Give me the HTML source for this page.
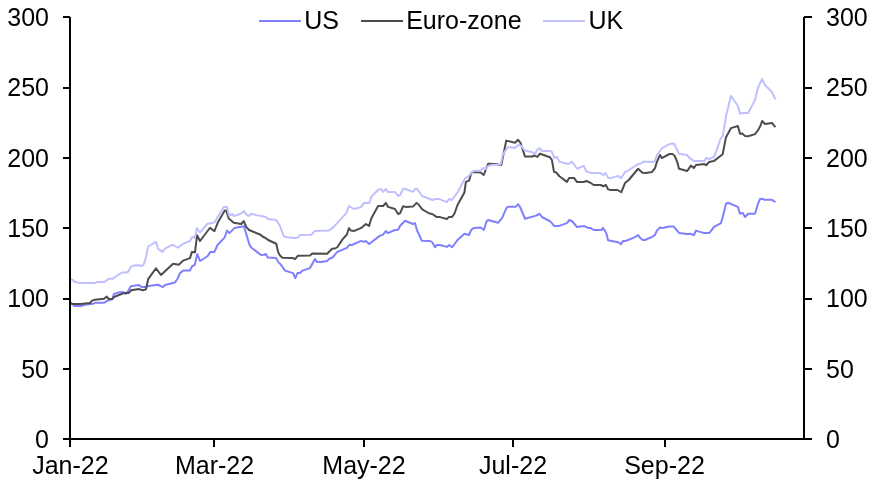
<!DOCTYPE html>
<html><head><meta charset="utf-8">
<style>
html,body{margin:0;padding:0;background:#fff;}
body{width:872px;height:482px;overflow:hidden;}
svg{display:block;}
text{font-family:"Liberation Sans",sans-serif;font-size:25px;fill:#000;}
</style></head><body>
<svg width="872" height="482" viewBox="0 0 872 482">
<rect width="872" height="482" fill="#fff"/>
<!-- series -->
<g fill="none" stroke-width="2" stroke-linejoin="round" stroke-linecap="butt">
<polyline id="us" stroke="#8080ff" points="70.6,302.8 74.4,306 80.9,306 86.5,304.4 93.4,303.7 95.6,302.7 104.3,302.7 108.9,299.9 112.4,299.3 113.9,293.9 117.75,292.75 121.5,291.9 124,292.5 125.9,294 128.4,290.6 130.9,286.25 139,285 141.5,286.9 145,287.1 148.75,285.9 158.1,284.75 162.9,287.1 165,285 175,282.5 177.5,278.75 180,273.1 183.1,270.6 190,270.4 192.25,266 194.75,265 197.25,254 200,261 207.5,256.25 210.25,252.1 214.4,251.9 217.5,245 224.4,237.9 227.1,230.6 229.4,233.1 234.4,228.1 243.9,226.2 249.4,244.4 251.25,247.5 261,255 263.75,254.75 265.9,254 267.75,257.5 276,257.9 278.1,261.9 280.6,264.4 285,270.6 293.1,273.1 295.25,278.1 297.5,273.1 300,272.9 302.5,270.6 310,268.1 315,259 316.9,261.9 321.25,262.1 327.1,261 329.4,258.75 332.5,257.5 337.25,251.9 346.9,247.9 349.4,244.75 351.9,245 361,240.9 363.75,241.9 365.9,241 369.1,244 380,235.6 383.1,234.6 385.9,231 387.75,233.1 395,230 398.1,229.75 400,226 405,220.8 412.9,224 415,223.1 416.9,230 421.9,240.8 430,241 432.25,242.25 435.1,247.2 436.9,245 440,245 446.9,246.9 449.1,245 452.1,247.25 457.1,240.6 464.4,233.75 469,235 471.25,229.75 474,227.9 480.6,227.6 484,229.8 486.25,221.9 488.1,220 498.1,222.8 502.2,217.8 506.25,208.3 508.1,206.7 515.5,206.7 518.1,204.3 520,206.9 525,218.75 536.25,215.6 539.6,213.75 541.9,217 550,221.25 551.9,223.1 554,225.9 559.4,225.9 566.9,223.1 569.4,220 572.25,221.25 577.1,227.1 583.75,225.9 588.1,227.9 590.6,228.1 593.75,230 601.25,230 603.1,227.9 606.25,233.1 608.1,240.25 618.1,242.25 621,244.1 623.1,240.9 625.6,241 635,237.1 638.1,235 640,237.8 642.75,240 645,240 652.1,236.9 655,235 656.9,230.6 660,227.5 662.5,227.9 669.4,226.6 673.75,226.6 679,232.9 686.9,234 690,233.75 694,235 695.9,230.6 703.5,232.9 709.4,232.9 714,226.9 721,223.1 723.1,215.5 726,203.75 728.1,202.75 737.9,206.9 740,213.75 742.75,212.9 745,217 748.1,213.75 755,213.75 757.75,204.4 760,199 761.9,198.75 764.75,199.75 771.9,199.75 775.4,202.1"/>
<polyline id="ez" stroke="#4d4d4d" points="70.5,303.5 73.4,304 80.9,304.1 90,303 92.1,300.6 94.9,299.8 104,298.8 106.8,296.6 108.9,299.1 112,299.1 113.9,297 119,295 124,293.1 128.75,292.9 131.25,290.25 139,289.1 142.75,290.25 146,289.4 148.1,279.2 156,268.3 161,275 173.1,263.75 178.75,264.75 183.1,260.6 190,258.1 191.9,251.9 195,252.2 197.1,235.25 200,241 210,227.75 214.4,231.25 218.1,221.9 224.75,210.6 226.25,210.6 228.75,218.5 233.75,222.75 241.25,224 243.75,221.1 246.25,226.9 249,230 260.6,234.75 262.5,236.5 265.6,238.1 268.1,240 276.25,243.75 278.1,251.9 280,255.6 282.5,257.8 292.5,257.9 295,259.2 298.1,255.7 310,255.6 312.25,253.6 327.1,253.75 332.1,248.75 335,248.5 337.25,247.25 342.5,239.4 346.9,234.5 349,228.1 351,230.6 354.4,230.9 361.25,227.9 365.9,224 369.1,225.9 371.25,218.5 378.1,206 383.1,206 385.9,202.9 388.1,206.9 395,209 398.1,214 400,213.4 403.1,206.25 405.6,206.9 412.9,206.6 416.5,202.9 418.75,204.75 422.25,209.4 429.4,213.5 432.25,214 436.5,216.9 440,217.1 446.9,219 449,216.9 452.1,216.9 454.4,213.75 457.5,205 464.4,192.5 465.9,181.9 469.1,180.6 471.25,173.1 473.1,171.9 480.6,172.5 483.75,175 488.1,163.75 495,164 501.25,165 506.25,140.6 515,142.75 518.1,139.75 520.6,143.1 525,156.6 532.5,156.6 534,155.4 537.25,156.9 540,153.75 550,157.25 551.9,160 554,171.9 556.25,172.5 559.4,176.25 566.9,181.9 569.1,177.9 574,177.9 577.1,182.1 583.75,182.1 586.25,181 590,182.5 593.75,185 600.6,185 603.4,186.25 605.9,185 608.1,189.4 610.6,190 617.5,190 621.25,192.25 625,183.1 628.75,180 638.1,168.75 642.5,172.8 645.6,172.9 652.1,171.9 655,168.1 656.9,161.9 660,155 661.9,158.1 669.4,154 672.75,154.1 674.75,156 677.1,161.6 679,168.75 687.25,171 690.9,165.6 693.75,168.1 696,165 704.4,164.1 706.25,165.25 709.1,161.9 713.75,161.1 722.7,154.2 725.9,137.5 731,128.1 737.9,126 740,133.75 742.5,133.6 745,136 748.1,136.25 755,134.1 758.1,130 760.6,125.4 762.1,121 765,124 771.9,123 775.4,127.2"/>
<polyline id="uk" stroke="#c0c0ff" points="70.4,279.2 72.5,279.8 74.7,282 76.6,282.1 79.4,283.1 95.25,283.1 97.1,282 104.3,282 108.9,278.7 112.4,278.8 116.5,276 120.9,273.1 123.75,272.25 125.9,272.75 128.4,271.5 130.9,266.6 134,265.6 139,265.25 142.1,265.9 144,263.75 145.9,257.5 148.1,246.5 156,241.9 158.1,248.75 162.5,251.9 165.6,248.1 172.75,244.75 178.1,247.75 183.1,243.75 190,241 192.25,236.9 194.75,238.1 196.9,228.1 200,232.5 207.5,223.75 214.4,222.5 223.75,206.9 226.9,206.9 229,215.6 232.25,214 234,216 240,214 244,211.1 246.25,214.4 248.75,216 251.25,213.75 258.75,215.6 265.6,216.9 268.1,219 276.25,220 280,226 283.75,236.25 286.9,237.25 293.75,237.9 298.1,237.5 300,235 311.25,234.75 315,230.9 329,230.6 333.75,226.9 346.25,213.1 349,206 354,209 360.6,207.25 364.4,202.75 369.4,202.9 371.25,196.9 378.1,189.75 381,189 383.1,191.9 385.9,189 388.1,192.1 395,192.1 398.1,196 400,195.25 403.1,188.75 405,188.75 412.9,191.9 415.4,188.75 417.25,189 422.25,196 432.25,200 435.6,199 439.4,199.1 446.9,202.1 449,199 451.9,200 457.5,192.5 464.4,179.4 465.6,178.1 468.75,176 473.1,171 480.6,170.6 483.75,167.9 485.9,169 488.1,166 491.25,165 500.6,164.4 502.9,154.4 508.1,146.9 514.75,147.9 518.75,144.75 521.25,146 525,150.6 532.5,152.25 535,154 537.25,149.75 539.6,148.1 541.9,150.9 550,150.9 551.9,151.9 554.4,158.1 556.9,156.9 559.4,161.6 566.9,163.75 569.4,163.75 571.9,161.6 577.1,168.75 583.75,165.9 586.25,171.25 590.6,172.9 600.6,172.9 603.4,175.25 605.6,172.9 608.1,177.9 611.25,177.9 618.1,175.9 621.25,178.1 625,171.9 627.5,171 638.1,164.1 640,164 643.5,161.6 653.1,161.9 655,160.9 656.9,155 662.25,148.1 669.4,144 674,143.5 679,153.75 686.9,155 689.4,157.9 693.75,160.9 704.4,160.9 706.1,157.9 708.75,159 713.75,157 715,154.7 720.6,138.75 722.7,136.1 726.25,115 731,96 738.1,106.25 740,113.75 743.1,112.9 748.1,113.1 755,100 757.75,88.5 762.1,79 765,85 771.9,91.9 775.4,99.4"/>
</g>
<!-- axes -->
<g fill="#000" shape-rendering="crispEdges">
<rect x="69" y="17" width="2" height="430"/>
<rect x="803" y="17" width="2" height="423"/>
<rect x="63" y="438" width="749" height="2"/>
<rect x="63" y="16" width="7" height="2"/>
<rect x="804" y="16" width="8" height="2"/>
<rect x="63" y="87" width="7" height="2"/>
<rect x="804" y="87" width="8" height="2"/>
<rect x="63" y="157" width="7" height="2"/>
<rect x="804" y="157" width="8" height="2"/>
<rect x="63" y="227" width="7" height="2"/>
<rect x="804" y="227" width="8" height="2"/>
<rect x="63" y="298" width="7" height="2"/>
<rect x="804" y="298" width="8" height="2"/>
<rect x="63" y="368" width="7" height="2"/>
<rect x="804" y="368" width="8" height="2"/>
<rect x="213" y="439" width="2" height="8"/>
<rect x="363" y="439" width="2" height="8"/>
<rect x="512" y="439" width="2" height="8"/>
<rect x="664" y="439" width="2" height="8"/>
</g>
<!-- y labels left -->
<g text-anchor="end">
<text x="49" y="26">300</text>
<text x="49" y="96">250</text>
<text x="49" y="166.5">200</text>
<text x="49" y="237">150</text>
<text x="49" y="307">100</text>
<text x="49" y="377.5">50</text>
<text x="49" y="448">0</text>
</g>
<g text-anchor="start">
<text x="826" y="26">300</text>
<text x="826" y="96">250</text>
<text x="826" y="166.5">200</text>
<text x="826" y="237">150</text>
<text x="826" y="307">100</text>
<text x="826" y="377.5">50</text>
<text x="826" y="448">0</text>
</g>
<g text-anchor="middle">
<text x="70.4" y="473.5">Jan-22</text>
<text x="214.5" y="473.5">Mar-22</text>
<text x="364" y="473.5">May-22</text>
<text x="513" y="473.5">Jul-22</text>
<text x="664.5" y="473.5">Sep-22</text>
</g>
<!-- legend -->
<g stroke-width="2" fill="none">
<path d="M259 21H301" stroke="#8080ff"/>
<path d="M361 21H403" stroke="#4d4d4d"/>
<path d="M543 21H585" stroke="#c0c0ff"/>
</g>
<text x="304.2" y="28.7">US</text>
<text x="406.2" y="28.7">Euro-zone</text>
<text x="588.5" y="28.7">UK</text>
</svg>
</body></html>
